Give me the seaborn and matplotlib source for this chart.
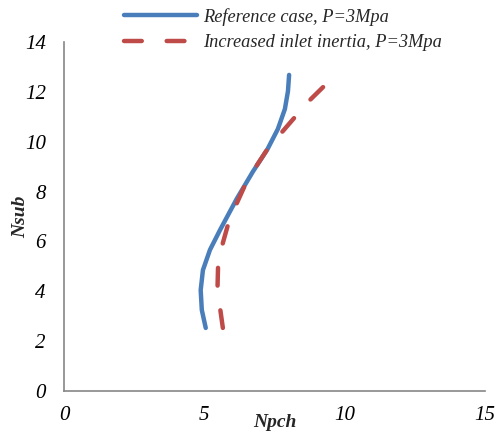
import matplotlib
matplotlib.use("Agg")
import matplotlib.pyplot as plt
import seaborn as sns
import pandas as pd

ref_x = [5.05, 4.91, 4.87, 4.95, 5.20, 5.56, 6.16, 6.73, 7.25, 7.62, 7.87, 7.98, 8.02]
ref_y = [2.53, 3.25, 4.05, 4.85, 5.66, 6.46, 7.72, 8.80, 9.70, 10.51, 11.31, 12.03, 12.68]
inc_x = [5.66, 5.56, 5.47, 5.49, 5.66, 5.84, 6.16, 6.45, 6.88, 7.23, 7.77, 8.23, 8.76, 9.23]
inc_y = [2.53, 3.33, 4.17, 5.05, 5.94, 6.66, 7.54, 8.26, 9.07, 9.67, 10.39, 10.99, 11.67, 12.19]
labels = ["Reference case, P=3Mpa", "Increased inlet inertia, P=3Mpa"]
xticks = [0, 5, 10, 15]
yticks = [0, 2, 4, 6, 8, 10, 12, 14]

df = pd.concat([
    pd.DataFrame({"Npch": ref_x, "Nsub": ref_y, "case": labels[0]}),
    pd.DataFrame({"Npch": inc_x, "Nsub": inc_y, "case": labels[1]}),
])

sns.set_theme(style="white")
plt.rcParams["font.family"] = ["Liberation Serif", "DejaVu Serif"]

fig = plt.figure(figsize=(4.98, 4.32), dpi=100)
ax = fig.add_axes([64/498, 41/432, 421/498, 349/432])

colors = {labels[0]: "#4a7ebb", labels[1]: "#be4b48"}
sns.lineplot(data=df, x="Npch", y="Nsub", hue="case", palette=colors, sort=False,
             estimator=None, linewidth=3.2, ax=ax, legend=False)
lines = ax.get_lines()
for ln in lines:
    ln.set_solid_capstyle("round")
    ln.set_dash_capstyle("round")
    ln.set_solid_joinstyle("round")
    ln.set_dash_joinstyle("round")
lines[1].set_dashes((4.0, 5.6))

ax.set_xlim(0, 15)
ax.set_ylim(0, 14)
ax.set_xticks(xticks)
ax.set_yticks(yticks)
ax.set_xticklabels([str(t) for t in xticks], fontsize=15, style="italic")
ax.set_yticklabels([str(t) for t in yticks], fontsize=15, style="italic")
ax.tick_params(axis="both", length=0, colors="black")
ax.tick_params(axis="x", pad=11)
ax.tick_params(axis="y", pad=13)
for s in ["top", "right"]:
    ax.spines[s].set_visible(False)
for s in ["left", "bottom"]:
    ax.spines[s].set_color("#868686")
    ax.spines[s].set_linewidth(1.2)
ax.grid(False)

ax.set_xlabel("Npch", fontsize=14, style="italic", weight="bold", labelpad=-8)
ax.set_ylabel("Nsub", fontsize=14, style="italic", weight="bold")
ax.yaxis.set_label_coords(-0.083, 0.5)

leg = ax.legend(lines, labels, loc="upper left", bbox_to_anchor=(0.103, 1.145),
                frameon=False, handlelength=4.0, handletextpad=0.3, labelspacing=0.47,
                prop={"family": "Liberation Serif", "style": "italic", "size": 13.2})

fig.savefig("out.png", dpi=100)
